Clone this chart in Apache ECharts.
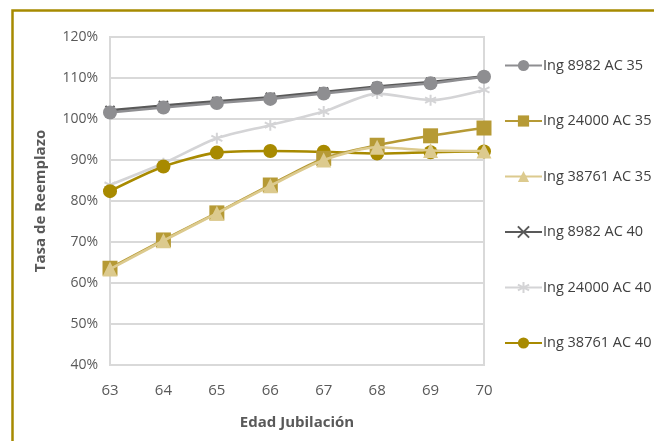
<!DOCTYPE html>
<html><head><meta charset="utf-8">
<script src="https://cdn.jsdelivr.net/npm/echarts@6/dist/echarts.min.js"></script>
<style>html,body{margin:0;padding:0;background:#fff}#c{width:654px;height:441px}</style>
</head><body><div id="c"></div>
<script>
const categories = ['63','64','65','66','67','68','69','70'];
const seriesNames = ['Ing 8982 AC 35','Ing 24000 AC 35','Ing 38761 AC 35','Ing 8982 AC 40','Ing 24000 AC 40','Ing 38761 AC 40'];
const ing8982ac35  = [101.6, 102.8, 103.9, 104.9, 106.2, 107.6, 108.7, 110.3];
const ing24000ac35 = [63.6, 70.5, 77.1, 83.9, 90.4, 93.6, 95.9, 97.8];
const ing38761ac35 = [63.4, 70.3, 77.0, 83.7, 90.0, 93.1, 92.3, 92.2];
const ing8982ac40  = [102.1, 103.3, 104.3, 105.3, 106.6, 107.9, 109.0, 110.4];
const ing24000ac40 = [83.9, 89.2, 95.3, 98.5, 101.8, 106.2, 104.6, 107.1];
const ing38761ac40 = [82.4, 88.4, 91.8, 92.2, 92.0, 91.6, 91.9, 92.1];
const yTicks = [40, 50, 60, 70, 80, 90, 100, 110, 120];

const FONT = '"Open Sans", sans-serif';
const xPath = 'path://M0,0L10,10M10,0L0,10';
const starPath = 'path://M5,0L5,10M0,2.5L10,7.5M10,2.5L0,7.5';

function mk(name, data, color, symbol, size, z, stroke) {
  return {
    name, type: 'line', data, smooth: 0.25, symbol, symbolSize: size,
    lineStyle: {color, width: 2.6},
    itemStyle: stroke ? {color: 'rgba(0,0,0,0)', borderColor: color, borderWidth: 2} : {color},
    emphasis: {disabled: true}, z
  };
}

const chart = echarts.init(document.getElementById('c'), null, {renderer: 'canvas'});
chart.setOption({
  animation: false,
  graphic: [{
    type: 'rect', silent: true,
    shape: {x: 12.5, y: 10.5, width: 800, height: 600},
    style: {fill: 'none', stroke: '#a68a00', lineWidth: 2.5}
  }],
  grid: {left: 110, top: 37, right: 170, bottom: 76, show: true, borderColor: '#d9d9d9', borderWidth: 2},
  legend: {
    orient: 'vertical', left: 499, top: 53, itemWidth: 37, itemHeight: 14, itemGap: 40.5,
    data: seriesNames,
    textStyle: {fontFamily: FONT, fontSize: 14.5, color: '#404040', padding: [0,0,0,-4]}
  },
  xAxis: {
    type: 'category', data: categories, boundaryGap: false,
    axisLine: {show: false}, axisTick: {show: false},
    axisLabel: {fontFamily: FONT, fontSize: 15, color: '#595959', margin: 18},
    splitLine: {show: false},
    name: 'Edad Jubilación', nameLocation: 'middle', nameGap: 50,
    nameTextStyle: {fontFamily: FONT, fontSize: 15, fontWeight: 'bold', color: '#595959'}
  },
  yAxis: {
    type: 'value', min: yTicks[0], max: yTicks[yTicks.length-1], interval: 10,
    axisLine: {show: false}, axisTick: {show: false},
    axisLabel: {fontFamily: FONT, fontSize: 14, color: '#595959', margin: 12, formatter: '{value}%'},
    splitLine: {lineStyle: {color: '#d9d9d9', width: 2}},
    name: 'Tasa de Reemplazo', nameLocation: 'middle', nameGap: 62, nameRotate: 90,
    nameTextStyle: {fontFamily: FONT, fontSize: 15, fontWeight: 'bold', color: '#595959'}
  },
  series: [
    mk(seriesNames[0], ing8982ac35, '#8e8e91', 'circle', 14, 6),
    mk(seriesNames[1], ing24000ac35, '#b69a35', 'rect', 15, 7),
    mk(seriesNames[2], ing38761ac35, '#dcca8e', 'triangle', 15, 8),
    mk(seriesNames[3], ing8982ac40, '#595959', xPath, 9, 5, true),
    mk(seriesNames[4], ing24000ac40, '#d4d4d6', starPath, 11, 3, true),
    mk(seriesNames[5], ing38761ac40, '#a88a00', 'circle', 14, 4)
  ]
});
</script></body></html>
